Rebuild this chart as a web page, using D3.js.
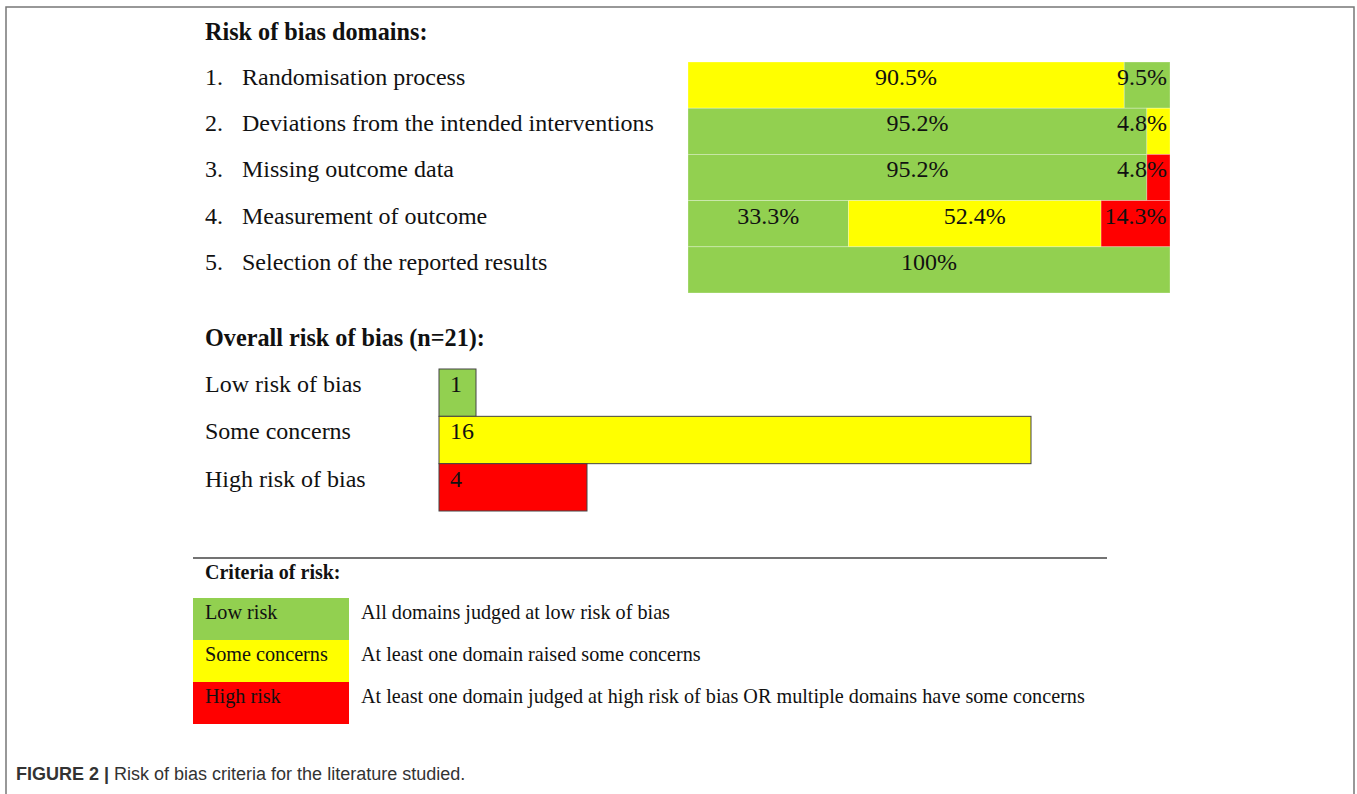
<!DOCTYPE html>
<html lang="en">
<head>
<meta charset="UTF-8">
<title>Risk of bias criteria</title>
<script src="https://cdn.jsdelivr.net/npm/d3@7"></script>
<style>
  body { margin: 0; background: #fff; }
  svg text { font-family: "Liberation Serif", "Times New Roman", serif; fill: #111; }
  svg text.caption { font-family: "Liberation Sans", Arial, sans-serif; fill: #333; }
</style>
</head>
<body>
<div id="chart"></div>
<script>
    // risk of bias domains
    const domainNames = [
        "Randomisation process",
        "Deviations from the intended interventions",
        "Missing outcome data",
        "Measurement of outcome",
        "Selection of the reported results"
    ];
    // cells of each domain row, left to right: [risk, percent]
    const domainCells = [
        [["some", 90.5], ["low", 9.5]],
        [["low", 95.2], ["some", 4.8]],
        [["low", 95.2], ["high", 4.8]],
        [["low", 33.3], ["some", 52.4], ["high", 14.3]],
        [["low", 100]]
    ];

    // overall risk of bias (n=21)
    const overallLabels = ["Low risk of bias", "Some concerns", "High risk of bias"];
    const overallRisk = ["low", "some", "high"];
    const overallCounts = [1, 16, 4];

    // criteria legend
    const criteriaRisk = ["low", "some", "high"];
    const criteriaLabels = ["Low risk", "Some concerns", "High risk"];
    const criteriaText = [
        "All domains judged at low risk of bias",
        "At least one domain raised some concerns",
        "At least one domain judged at high risk of bias OR multiple domains have some concerns"
    ];

    const riskColor = {low: "#92d050", some: "#ffff00", high: "#ff0000"};

    const width = 1357, height = 794;
    const svg = d3.select("#chart").append("svg")
        .attr("width", width)
        .attr("height", height);

    // frame
    svg.append("path")
        .attr("d", "M6,800 L6,7 L1354,7 L1354,800")
        .attr("fill", "none")
        .attr("stroke", "#777")
        .attr("stroke-width", 1.5);

    // ---- domains block ----
    svg.append("text")
        .attr("x", 205).attr("y", 40)
        .attr("font-size", 24.2).attr("font-weight", "bold")
        .text("Risk of bias domains:");

    const yDom = d3.scaleBand().domain(d3.range(domainNames.length)).range([62, 293]);
    const xPct = d3.scaleLinear().domain([0, 100]).range([688, 1170]);

    const dRow = svg.append("g").selectAll("g")
        .data(domainNames)
        .join("g");

    dRow.append("text")
        .attr("x", 205).attr("y", (d, i) => yDom(i) + 23)
        .attr("font-size", 24)
        .text((d, i) => (i + 1) + ".");
    dRow.append("text")
        .attr("x", 242).attr("y", (d, i) => yDom(i) + 23)
        .attr("font-size", 24)
        .text(d => d);

    domainCells.forEach((cells, i) => {
        let acc = 0;
        const segs = cells.map(c => {
            const s = {risk: c[0], pct: c[1], x0: acc, x1: acc + c[1]};
            acc += c[1];
            return s;
        });
        const g = svg.append("g");
        g.selectAll("rect")
            .data(segs)
            .join("rect")
            .attr("x", d => xPct(d.x0))
            .attr("y", yDom(i))
            .attr("width", d => xPct(d.x1) - xPct(d.x0))
            .attr("height", yDom.bandwidth())
            .attr("fill", d => riskColor[d.risk])
            .attr("stroke", "#fff")
            .attr("stroke-opacity", 0.35)
            .attr("stroke-width", 0.8);
        g.selectAll("text")
            .data(segs)
            .join("text")
            .attr("x", d => Math.min((xPct(d.x0) + xPct(d.x1)) / 2, xPct(100) - 28))
            .attr("y", yDom(i) + 23)
            .attr("text-anchor", "middle")
            .attr("font-size", 24)
            .text(d => d.pct + "%");
    });

    // ---- overall block ----
    svg.append("text")
        .attr("x", 205).attr("y", 346)
        .attr("font-size", 24.2).attr("font-weight", "bold")
        .text("Overall risk of bias (n=21):");

    const yOv = d3.scaleBand().domain(d3.range(overallLabels.length)).range([369, 511]);
    const xCnt = d3.scaleLinear().domain([0, d3.max(overallCounts)]).range([439, 1031]);

    const oRow = svg.append("g").selectAll("g")
        .data(overallCounts)
        .join("g");
    oRow.append("rect")
        .attr("x", xCnt(0))
        .attr("y", (d, i) => yOv(i))
        .attr("width", d => xCnt(d) - xCnt(0))
        .attr("height", yOv.bandwidth())
        .attr("fill", (d, i) => riskColor[overallRisk[i]])
        .attr("stroke", "#444")
        .attr("stroke-width", 1);
    oRow.append("text")
        .attr("x", xCnt(0) + 11)
        .attr("y", (d, i) => yOv(i) + 23)
        .attr("font-size", 24)
        .text(d => d);
    oRow.append("text")
        .attr("x", 205)
        .attr("y", (d, i) => yOv(i) + 23)
        .attr("font-size", 24)
        .text((d, i) => overallLabels[i]);

    // ---- criteria legend ----
    svg.append("line")
        .attr("x1", 193).attr("x2", 1107)
        .attr("y1", 558).attr("y2", 558)
        .attr("stroke", "#444").attr("stroke-width", 1.5);

    svg.append("text")
        .attr("x", 205).attr("y", 579)
        .attr("font-size", 20).attr("font-weight", "bold")
        .text("Criteria of risk:");

    const yCr = d3.scaleBand().domain(d3.range(criteriaLabels.length)).range([598, 724]);
    const cRow = svg.append("g").selectAll("g")
        .data(criteriaLabels)
        .join("g");
    cRow.append("rect")
        .attr("x", 193).attr("y", (d, i) => yCr(i))
        .attr("width", 156).attr("height", yCr.bandwidth())
        .attr("fill", (d, i) => riskColor[criteriaRisk[i]]);
    cRow.append("text")
        .attr("x", 205).attr("y", (d, i) => yCr(i) + 21)
        .attr("font-size", 20.2)
        .text(d => d);
    cRow.append("text")
        .attr("x", 361).attr("y", (d, i) => yCr(i) + 21)
        .attr("font-size", 20.2)
        .text((d, i) => criteriaText[i]);

    // caption
    const cap = svg.append("text")
        .attr("class", "caption")
        .attr("x", 16).attr("y", 780)
        .attr("font-size", 18);
    cap.append("tspan").attr("font-weight", "bold").text("FIGURE 2 | ");
    cap.append("tspan").text("Risk of bias criteria for the literature studied.");
</script>
</body>
</html>
